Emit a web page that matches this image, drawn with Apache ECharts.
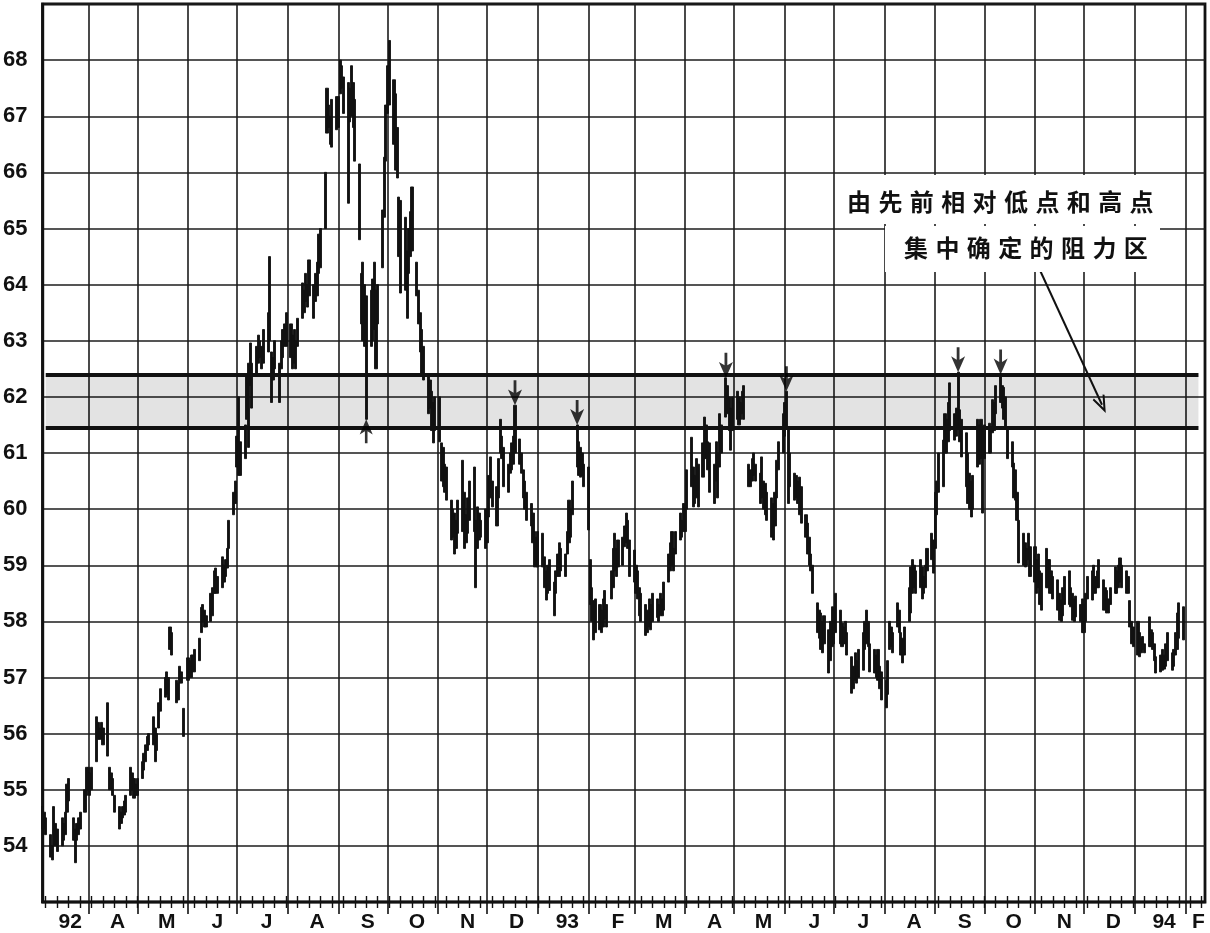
<!DOCTYPE html>
<html><head><meta charset="utf-8">
<script src="https://cdn.jsdelivr.net/npm/echarts@6/dist/echarts.min.js"></script>
<style>html,body{margin:0;padding:0;background:#fff}#c{width:1210px;height:933px}</style>
</head><body><div id="c"></div>
<script>
// ---- calendar range of the x axis (one category per calendar day) ----
const startDate = [1992, 2, 4];   // 1992-03-04
const endDate   = [1994, 1, 13];  // 1994-02-13

// ---- month labels (first shown month is March 1992) ----
const monthLabels = ['92','A','M','J','J','A','S','O','N','D','93','F','M','A','M','J','J','A','S','O','N','D','94','F'];

// ---- y ticks ----
const yMin = 53, yMax = 69, yStep = 1;
const yLabelMin = 54, yLabelMax = 68;

// ---- resistance zone ----
const zoneTop = 62.4, zoneBottom = 61.45;

// ---- daily [high, low] bars, one per trading day (weekdays) from 1992-03-04 ----
const bars1992 = [
  // Mar
  [54.7,54.3],[54.6,54.3],[54.5,54.2],
  [54.2,53.8],[54.0,53.75],[54.7,54.0],[54.4,54.0],[54.3,53.9],
  [54.5,54.0],[54.4,54.1],[54.6,54.2],[55.1,54.6],[55.2,54.8],
  [54.5,54.1],[54.3,53.7],[54.4,54.1],[54.5,54.2],[54.6,54.3],
  [55.0,54.6],[55.4,54.9],
  // Apr
  [55.4,55.0],[55.3,54.9],[55.4,55.0],
  [56.3,55.5],[56.2,55.9],[56.1,55.9],[56.2,55.9],[56.1,55.8],
  [56.55,55.6],[55.4,55.0],[55.3,55.0],[55.2,54.9],[54.9,54.6],
  [54.7,54.3],[54.6,54.4],[54.7,54.5],[54.8,54.55],[54.9,54.6],
  [55.4,54.9],[55.3,55.0],[55.2,54.85],[55.1,54.9],
  // May
  [55.2,54.9],
  [55.5,55.2],[55.65,55.35],[55.8,55.5],[55.95,55.7],[56.0,55.8],
  [56.3,55.8],[56.1,55.5],[56.0,55.7],[56.55,56.1],[56.8,56.4],
  [57.0,56.65],[57.1,56.7],[57.0,56.6],[57.9,57.5],[57.8,57.4],
  [56.95,56.55],[56.9,56.6],[57.2,56.9],[57.1,56.9],[56.45,55.95],
  // Jun
  [57.35,56.95],[57.3,57.0],[57.4,57.0],[57.4,57.1],[57.5,57.1],
  [57.7,57.3],[58.25,57.8],[58.3,58.0],[58.2,57.9],[58.1,57.9],
  [58.5,58.0],[58.6,58.1],[58.9,58.5],[58.95,58.5],[58.8,58.5],
  [59.15,58.6],[59.0,58.7],[59.1,58.8],[59.3,58.95],[59.8,59.3],
  [60.3,59.9],[60.5,60.1],
  // Jul
  [61.3,60.75],[62.0,60.6],[61.2,60.6],
  [61.5,60.9],[62.4,61.6],[62.6,61.1],[62.96,62.2],[62.6,61.8],
  [62.9,62.4],[63.1,62.6],[63.0,62.7],[62.9,62.5],[63.2,62.6],
  [63.5,62.8],[64.5,63.0],[62.8,61.9],[62.7,62.3],[63.0,62.5],
  [62.6,61.9],[63.0,62.5],[63.2,62.7],[63.3,62.9],[63.5,62.9],
  // Aug
  [63.3,62.7],[63.1,62.5],[63.2,62.6],[63.0,62.5],[63.4,62.9],
  [64.03,63.4],[63.9,63.5],[64.2,63.7],[64.0,63.6],[64.44,63.8],
  [64.0,63.4],[64.2,63.7],[64.4,63.8],[64.9,64.2],[65.0,64.3],
  [66.0,65.0],[67.5,66.7],[67.2,66.8],[67.0,66.5],[67.3,66.45],
  [67.35,66.76],
  // Sep
  [67.35,66.8],[68.0,67.4],[67.9,67.5],[67.7,67.05],
  [67.6,65.45],[67.5,66.9],[67.9,67.0],[67.6,66.8],[67.3,66.2],
  [66.15,64.8],[64.2,63.3],[64.4,63.0],[64.0,62.9],[63.8,61.6],
  [63.9,62.9],[64.1,63.0],[64.4,63.2],[63.9,62.5],[64.0,63.3],
  [65.33,64.3],[66.27,65.2],[67.2,66.2],
  // Oct
  [67.9,67.05],[68.35,67.2],
  [67.65,66.5],[67.4,66.04],[66.8,65.9],[65.56,64.5],[65.5,63.85],
  [65.2,63.9],[64.6,63.4],[65.0,64.2],[65.3,64.5],[65.74,64.6],
  [64.4,63.8],[63.9,63.3],[63.5,62.8],[63.2,62.4],[62.9,62.3],
  [62.4,61.7],[62.3,61.8],[62.1,61.4],[61.9,61.18],[62.0,61.4],
  // Nov
  [62.0,61.2],[61.18,60.5],[61.1,60.4],[60.8,60.3],[60.75,60.16],
  [60.16,59.45],[60.0,59.5],[59.93,59.2],[59.8,59.3],[60.16,59.57],
  [60.87,59.6],[60.3,59.3],[59.9,59.4],[60.2,59.57],[60.5,59.8],
  [60.75,59.6],[59.8,58.6],[60.04,59.3],[59.93,59.45],[59.8,59.5],
  [60.0,59.3],
  // Dec
  [60.0,59.4],[60.6,59.86],[60.93,60.2],[60.5,60.04],
  [60.4,59.7],[60.9,60.2],[61.6,61.0],[61.3,60.9],[61.1,60.4],
  [60.8,60.3],[61.0,60.64],[61.18,60.7],[61.3,60.8],[61.85,61.0],
  [61.25,60.8],[61.0,60.64],[60.7,60.2],[60.5,60.0],[60.3,59.8],
  [60.1,59.7],[59.93,59.4],[59.6,58.97],[59.5,58.97]
];
const bars1993 = [
  // Jan
  [59.6,58.97],
  [59.57,58.97],[59.15,58.6],[58.9,58.38],[59.0,58.5],[59.1,58.55],
  [58.7,58.1],[58.9,58.5],[59.2,58.8],[59.4,58.8],[59.3,58.9],
  [59.2,58.8],[59.6,59.2],[60.16,59.4],[60.0,59.5],[60.5,59.9],
  [61.5,60.75],[61.2,60.6],[61.1,60.57],[61.0,60.6],[60.8,60.4],
  // Feb
  [60.75,59.63],[59.1,58.3],[58.6,58.0],[58.37,57.67],[58.4,57.8],
  [58.3,57.85],[58.2,57.8],[58.4,57.9],[58.55,58.04],[58.3,57.9],
  [58.9,58.4],[59.3,58.6],[59.57,58.9],[59.3,58.8],[59.45,58.97],
  [59.5,59.0],[59.7,59.33],[59.93,59.4],[59.8,59.3],[59.45,58.8],
  // Mar
  [59.27,58.7],[59.0,58.5],[58.9,58.4],[58.6,58.1],[58.5,58.0],
  [58.3,57.75],[58.2,57.8],[58.4,57.9],[58.3,57.85],[58.5,58.0],
  [58.4,58.07],[58.3,58.0],[58.5,58.1],[58.4,58.1],[58.7,58.2],
  [59.2,58.7],[59.4,58.9],[59.6,59.0],[59.3,58.9],[59.6,59.2],
  [59.93,59.45],[59.8,59.5],[60.1,59.6],
  // Apr
  [60.0,59.6],[60.7,60.0],
  [61.28,60.4],[60.75,60.04],[60.6,60.1],[60.9,60.2],[60.8,60.04],
  [61.18,60.57],[61.64,60.9],[61.5,60.9],[61.2,60.7],[61.18,60.3],
  [60.8,60.1],[61.2,60.5],[61.0,60.2],[61.7,60.75],[61.5,61.0],
  [62.34,61.64],[62.2,61.7],[62.0,61.4],[61.8,61.05],[62.0,61.4],
  // May
  [62.1,61.6],[62.0,61.5],[61.9,61.6],[62.1,61.7],[62.2,61.6],
  [60.8,60.4],[60.7,60.4],[60.9,60.5],[61.0,60.6],[60.8,60.5],
  [60.64,60.1],[60.93,60.2],[60.5,60.0],[60.46,59.9],[60.3,59.8],
  [60.2,59.5],[60.1,59.45],[60.3,59.7],[60.87,60.2],[61.2,60.7],
  [61.7,61.0],
  // Jun
  [61.9,61.3],[62.1,61.46],[61.46,60.1],[61.0,60.4],
  [60.64,60.16],[60.6,60.2],[60.5,60.1],[60.57,59.9],[60.4,59.75],
  [59.9,59.5],[59.75,59.2],[59.5,59.0],[59.2,58.9],[59.0,58.5],
  [58.33,57.8],[58.2,57.7],[58.15,57.5],[58.0,57.44],[58.1,57.6],
  [57.85,57.08],[58.0,57.3],[58.26,57.55],
  // Jul
  [58.2,57.6],[58.5,57.8],
  [58.2,57.6],[57.97,57.55],[57.9,57.6],[58.0,57.6],[57.8,57.4],
  [57.37,56.72],[57.2,56.8],[57.44,56.95],[57.3,56.9],[57.5,57.0],
  [57.8,57.13],[58.0,57.5],[58.2,57.6],[58.0,57.55],[57.6,57.1],
  [57.5,57.08],[57.4,57.0],[57.5,56.95],[57.2,56.8],[57.1,56.6],
  // Aug
  [56.95,56.46],[57.3,56.7],[58.0,57.5],[57.9,57.55],[57.8,57.44],
  [58.33,57.9],[58.2,57.8],[57.8,57.4],[57.7,57.26],[57.9,57.4],
  [58.6,58.0],[58.97,58.15],[59.1,58.5],[59.0,58.6],[58.9,58.5],
  [59.1,58.6],[58.97,58.4],[58.8,58.5],[59.0,58.6],[59.3,58.9],
  [59.57,59.1],[59.45,58.86],
  // Sep
  [60.3,59.3],[60.5,59.9],[61.0,60.3],
  [61.23,60.4],[61.7,61.0],[61.6,61.0],[61.9,61.2],[62.25,61.4],
  [61.7,61.23],[61.8,61.3],[62.44,61.46],[61.77,61.2],[61.6,60.93],
  [61.36,60.4],[61.0,60.1],[60.64,60.0],[60.5,59.86],[60.6,60.0],
  [61.6,60.75],[61.5,60.8],[61.6,60.9],[61.4,59.93],
  // Oct
  [61.5,60.9],
  [61.53,61.0],[61.4,61.0],[61.95,61.36],[61.9,61.4],[62.2,61.7],
  [62.4,61.9],[62.2,61.8],[62.17,61.6],[62.0,61.46],[61.46,60.9],
  [61.2,60.75],[60.82,60.2],[60.7,60.16],[60.3,59.8],[59.8,59.04],
  [59.57,59.0],[59.4,58.97],[59.3,59.0],[59.57,59.1],[59.33,58.8],
  // Nov
  [59.33,58.7],[59.1,58.5],[59.2,58.6],[58.9,58.3],[58.86,58.2],
  [59.3,58.6],[59.1,58.6],[59.1,58.5],[58.9,58.5],[58.8,58.4],
  [58.74,58.2],[58.5,58.02],[58.38,58.0],[58.6,58.1],[58.8,58.3],
  [58.9,58.3],[58.6,58.26],[58.5,58.02],[58.4,58.0],[58.45,58.08],
  [58.3,58.0],[58.4,57.8],
  // Dec
  [58.3,57.8],[58.5,58.0],[58.8,58.4],
  [58.9,58.38],[59.0,58.5],[58.8,58.5],[58.9,58.6],[59.1,58.6],
  [58.74,58.2],[58.6,58.2],[58.55,58.15],[58.4,58.15],[58.6,58.3],
  [58.97,58.5],[58.9,58.5],[59.0,58.6],[59.13,58.7],[59.0,58.6],
  [58.9,58.5],[58.8,58.5],[58.37,57.9],[58.0,57.6],[57.9,57.55]
];
const bars1994 = [
  // Jan
  [58.0,57.4],[57.8,57.37],[57.7,57.44],[57.73,57.5],[57.6,57.44],
  [58.08,57.55],[57.85,57.55],[57.8,57.5],[57.6,57.3],[57.37,57.08],
  [57.4,57.1],[57.5,57.13],[57.4,57.15],[57.6,57.2],[57.8,57.3],
  [57.44,57.13],[57.5,57.2],[57.8,57.4],[58.15,57.5],[58.33,57.7],
  [58.26,57.67]
];

// ---- marked turning points ----
const peakArrowDates = ['1992-12-18','1993-01-25','1993-04-26','1993-06-02','1993-09-15','1993-10-11'];
const lowArrowDates = ['1992-09-18'];

// ---- annotation ----
const noteLine1 = '由先前相对低点和高点';
const noteLine2 = '集中确定的阻力区';
const noteArrowFrom = ['1993-11-04', 64.26];
const noteArrowTo = ['1993-12-12', 61.86];
const zoneStartDate = '1992-03-06', zoneEndDate = '1994-02-09';

// ================= build =================
const DAY = 86400000;
const fmt = t => new Date(t).toISOString().slice(0, 10);
const days = [];
const t0 = Date.UTC(startDate[0], startDate[1], startDate[2]);
const t1 = Date.UTC(endDate[0], endDate[1], endDate[2]);
for (let t = t0; t <= t1; t += DAY) days.push(fmt(t));

const allBars = bars1992.concat(bars1993, bars1994);
const candle = [];
const barByDate = {};
let k = 0;
for (let i = 0; i < days.length; i++) {
  const wd = new Date(days[i] + 'T00:00:00Z').getUTCDay();
  if (wd >= 1 && wd <= 5 && k < allBars.length) {
    const [hi, lo] = allBars[k++];
    candle.push([lo, hi, lo, hi]);
    barByDate[days[i]] = [hi, lo];
  } else {
    candle.push('-');
  }
}

// month label positions (a little past mid-month, as in the original)
const labelMap = {};
for (let m = 0; m < monthLabels.length; m++) {
  const y = 1992 + Math.floor((2 + m) / 12);
  const mo = (2 + m) % 12;
  let d = 19;
  if (m === 0) d = 21;
  if (m === monthLabels.length - 1) d = 9;
  labelMap[fmt(Date.UTC(y, mo, d))] = monthLabels[m];
}

const isFirst = (i, v) => v.slice(8) === '01';
const isFriday = (i, v) => new Date(v + 'T00:00:00Z').getUTCDay() === 5;

const INK = '#111';
const downArrow = 'path://M5.6,0 L8.4,0 L8.4,13 L14,9.5 L7,26 L0,9.5 L5.6,13 Z';
const upArrow = 'path://M7,0 L14,16.5 L8.4,13 L8.4,26 L5.6,26 L5.6,13 L0,16.5 Z';
const chevron = 'path://M6,0 L12,15 L10.4,15.9 L6,5 L1.6,15.9 L0,15 Z';

const chart = echarts.init(document.getElementById('c'), null, {renderer: 'canvas'});
const baseX = {
  type: 'category', data: days, boundaryGap: false, gridIndex: 0, position: 'bottom'
};
chart.setOption({
  animation: false,
  backgroundColor: '#fff',
  grid: {left: 41, right: 5, top: 4, bottom: 31, show: true, borderColor: INK, borderWidth: 2.8, backgroundColor: 'transparent'},
  xAxis: [
    Object.assign({}, baseX, {
      axisLine: {show: true, onZero: false, lineStyle: {color: INK, width: 2.4}},
      axisTick: {show: true, interval: isFriday, length: 6, lineStyle: {color: INK, width: 1.4}},
      splitLine: {show: true, interval: isFirst, lineStyle: {color: '#1c1c1c', width: 1.6}},
      axisLabel: {
        show: true, interval: (i, v) => labelMap[v] !== undefined,
        formatter: v => labelMap[v] || '', margin: 10,
        fontFamily: 'Liberation Sans', fontWeight: 'bold', fontSize: 21, color: INK
      }
    }),
    Object.assign({}, baseX, {
      axisLine: {show: false, onZero: false},
      axisTick: {show: true, inside: true, interval: isFriday, length: 6, lineStyle: {color: INK, width: 1.4}},
      splitLine: {show: false}, axisLabel: {show: false}
    }),
    Object.assign({}, baseX, {
      axisLine: {show: false, onZero: false},
      axisTick: {show: true, interval: isFirst, length: 12, lineStyle: {color: INK, width: 1.6}},
      splitLine: {show: false}, axisLabel: {show: false}
    })
  ],
  yAxis: {
    type: 'value', min: yMin, max: yMax, interval: yStep,
    axisLine: {show: true, lineStyle: {color: INK, width: 2.4}},
    axisTick: {show: false},
    splitLine: {show: true, lineStyle: {color: '#1c1c1c', width: 1.5}},
    axisLabel: {
      formatter: v => (v >= yLabelMin && v <= yLabelMax) ? String(v) : '',
      margin: 15, fontFamily: 'Liberation Sans', fontWeight: 'bold', fontSize: 22, color: INK
    }
  },
  series: [
    {
      type: 'candlestick', xAxisIndex: 0, data: candle, large: false, barWidth: 2.6,
      itemStyle: {color: INK, color0: INK, borderColor: INK, borderColor0: INK, borderWidth: 0.9},
      markArea: {
        silent: true,
        itemStyle: {color: 'rgba(0,0,0,0.11)'},
        data: [[{coord: [zoneStartDate, zoneTop]}, {coord: [zoneEndDate, zoneBottom]}]]
      },
      markLine: {
        silent: true, symbol: ['none', 'none'], label: {show: false},
        lineStyle: {color: INK, width: 3.8, type: 'solid'},
        data: [
          [{coord: [zoneStartDate, zoneTop]}, {coord: [zoneEndDate, zoneTop]}],
          [{coord: [zoneStartDate, zoneBottom]}, {coord: [zoneEndDate, zoneBottom]}],
          [{coord: noteArrowFrom, symbol: 'none', lineStyle: {width: 2, color: INK}},
           {coord: noteArrowTo, symbol: chevron, symbolSize: [13, 18], lineStyle: {width: 2, color: INK}}]
        ]
      }
    },
    {
      type: 'scatter', xAxisIndex: 0, silent: true, z: 5,
      symbol: downArrow, symbolSize: [14, 25], symbolOffset: [0, '-50%'],
      itemStyle: {color: '#000'},
      data: peakArrowDates.map(d => [d, barByDate[d][0]])
    },
    {
      type: 'scatter', xAxisIndex: 0, silent: true, z: 5,
      symbol: upArrow, symbolSize: [13, 24], symbolOffset: [0, '50%'],
      itemStyle: {color: '#000'},
      data: lowArrowDates.map(d => [d, barByDate[d][1]])
    }
  ],
  graphic: [
    {type: 'rect', z: 100, shape: {x: 840, y: 175, width: 322, height: 49}, style: {fill: '#fff'}},
    {type: 'rect', z: 100, shape: {x: 885, y: 226, width: 275, height: 46}, style: {fill: '#fff'}},
    {type: 'text', z: 101, x: 847, y: 202, style: {
      text: noteLine1.split('').map(c => '{c|' + c + '}').join(''),
      verticalAlign: 'middle', align: 'left',
      rich: {c: {width: 31.4, fontSize: 24, fontWeight: 'bold', fontFamily: 'Noto Sans CJK SC', fill: INK, color: INK}}
    }},
    {type: 'text', z: 101, x: 904, y: 248, style: {
      text: noteLine2.split('').map(c => '{c|' + c + '}').join(''),
      verticalAlign: 'middle', align: 'left',
      rich: {c: {width: 31.4, fontSize: 24, fontWeight: 'bold', fontFamily: 'Noto Sans CJK SC', fill: INK, color: INK}}
    }}
  ]
});
</script></body></html>
